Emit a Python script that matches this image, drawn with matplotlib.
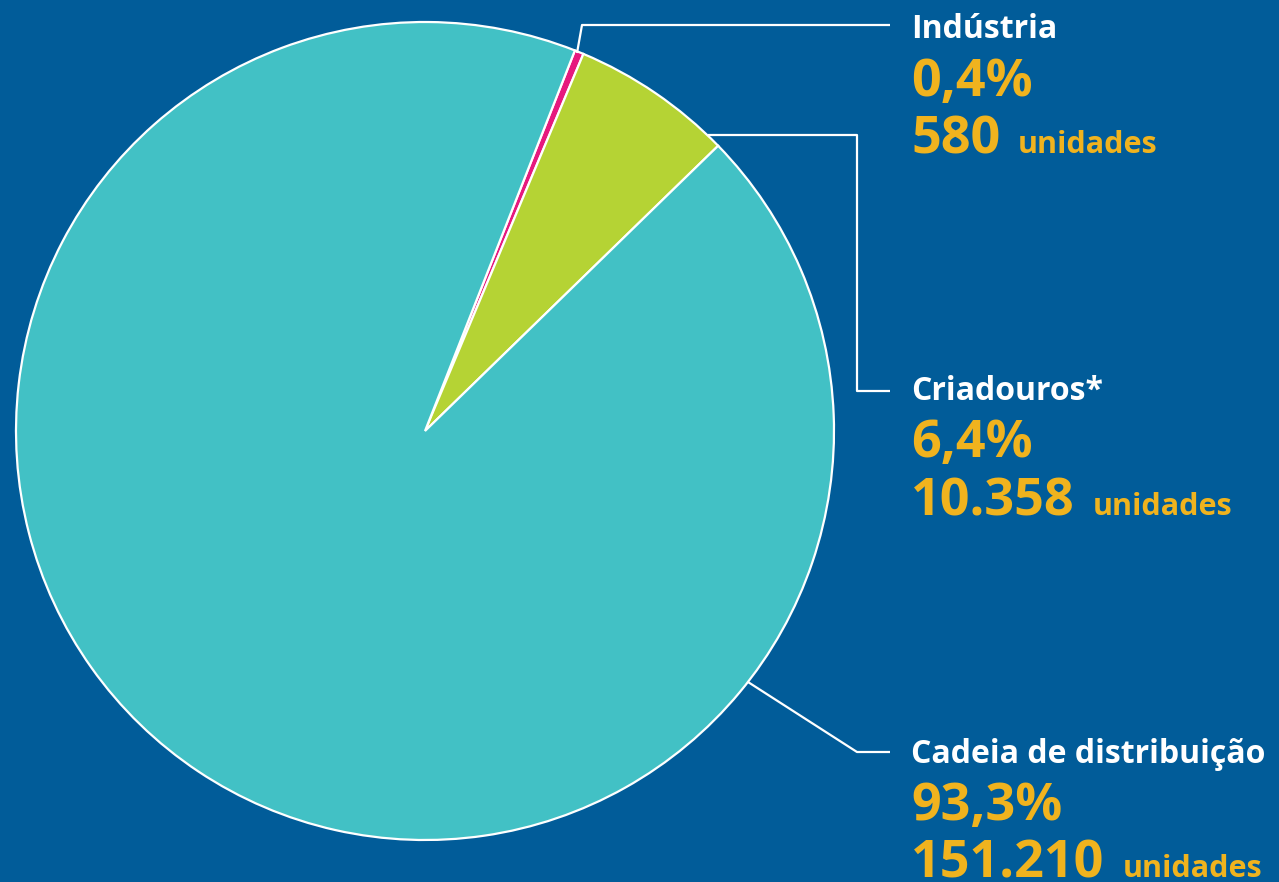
import matplotlib.pyplot as plt

# Data
categories = ["Indústria", "Criadouros*", "Cadeia de distribuição"]
units = [580, 10358, 151210]
pct_labels = ["0,4%", "6,4%", "93,3%"]
unit_labels = ["580", "10.358", "151.210"]
colors = ["#E6197E", "#B5D334", "#42C1C5"]

BG = "#015C99"
YELLOW = "#F0B31E"
W, H = 1279, 882

plt.rcParams["font.family"] = ["Open Sans", "DejaVu Sans"]

fig = plt.figure(figsize=(W / 100, H / 100), dpi=100, facecolor=BG)
ax = fig.add_axes([0, 0, 1, 1])
ax.set_facecolor(BG)

# Pie, drawn clockwise starting just right of the top
ax.pie(units, colors=colors, center=(425, H - 431), radius=409,
       startangle=68.5, counterclock=False,
       wedgeprops=dict(edgecolor="white", linewidth=1.6))

ax.set_xlim(0, W)
ax.set_ylim(0, H)
ax.set_aspect("equal")
ax.axis("off")

# Leader lines (image pixel coords, y measured from top)
leaders = [
    [(577, 53), (582, 25), (890, 25)],
    [(708, 135), (857, 135), (857, 391), (890, 391)],
    [(748, 682), (857, 752), (890, 752)],
]
for pts in leaders:
    xs = [p[0] for p in pts]
    ys = [H - p[1] for p in pts]
    ax.plot(xs, ys, color="white", lw=1.6, solid_capstyle="butt")

# Labels
baselines = [(38, 96, 153), (400, 457, 515), (763, 820, 877)]
x0 = 911
num_texts = []
for cat, pct, num, (b1, b2, b3) in zip(categories, pct_labels, unit_labels, baselines):
    ax.text(x0, H - b1, cat, color="white", fontsize=23, fontweight="bold",
            va="baseline", ha="left")
    ax.text(x0, H - b2, pct, color=YELLOW, fontsize=37.5, fontweight="bold",
            va="baseline", ha="left")
    t = ax.text(x0, H - b3, num, color=YELLOW, fontsize=37.5, fontweight="bold",
                va="baseline", ha="left")
    num_texts.append((t, b3))

# "unidades" follows each number on the same baseline
fig.canvas.draw()
renderer = fig.canvas.get_renderer()
for t, b3 in num_texts:
    bb = t.get_window_extent(renderer)
    ax.text(bb.x1 + 18, H - b3, "unidades", color=YELLOW, fontsize=22,
            fontweight="bold", va="baseline", ha="left", transform=None)

fig.savefig("out.png", dpi=100, facecolor=BG)
